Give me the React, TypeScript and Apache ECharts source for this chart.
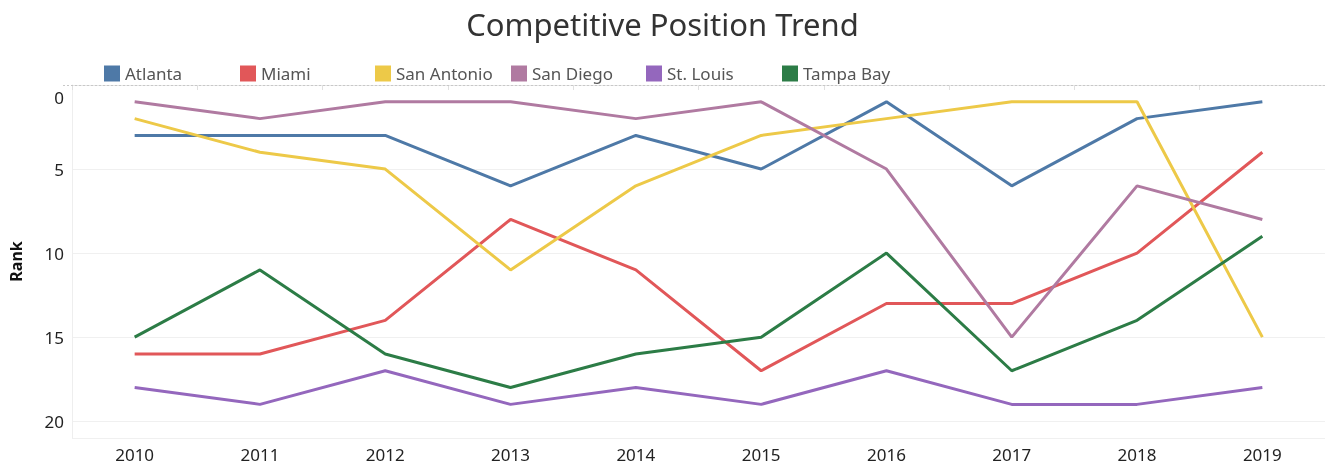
import React, { useEffect, useRef } from "react";
import * as echarts from "echarts";

const years = ["2010", "2011", "2012", "2013", "2014", "2015", "2016", "2017", "2018", "2019"];
const cities = ["Atlanta", "Miami", "San Antonio", "San Diego", "St. Louis", "Tampa Bay"];
const atlanta = [3, 3, 3, 6, 3, 5, 1, 6, 2, 1];
const miami = [16, 16, 14, 8, 11, 17, 13, 13, 10, 4];
const sanAntonio = [2, 4, 5, 11, 6, 3, 2, 1, 1, 15];
const sanDiego = [1, 2, 1, 1, 2, 1, 5, 15, 6, 8];
const stLouis = [18, 19, 17, 19, 18, 19, 17, 19, 19, 18];
const tampaBay = [15, 11, 16, 18, 16, 15, 10, 17, 14, 9];
const seriesValues = [atlanta, miami, sanAntonio, sanDiego, stLouis, tampaBay];
const colors = ["#4e79a7", "#e15759", "#edc948", "#b07aa1", "#9467bd", "#2c7c46"];
const yTicks = [0, 5, 10, 15, 20];
const legendLefts = [104, 240, 375, 511, 646, 782];

const FONT = "'Noto Sans', 'Open Sans', sans-serif";

export default function App() {
  const ref = useRef<HTMLDivElement>(null);
  useEffect(() => {
    const chart = echarts.init(ref.current!, null, { renderer: "svg" });
    chart.setOption({
      animation: false,
      title: {
        text: "Competitive Position Trend",
        left: "center",
        top: 3,
        textStyle: { fontFamily: FONT, fontSize: 31, fontWeight: "normal", color: "#333" },
      },
      legend: cities.map((c, i) => ({
        left: legendLefts[i] - 5,
        top: 60,
        itemWidth: 16,
        itemHeight: 16,
        itemGap: 0,
        icon: "rect",
        data: [c],
        textStyle: { fontFamily: FONT, fontSize: 17, color: "#555" },
      })),
      grid: { left: 68, right: 0, top: 85, bottom: 28, containLabel: false },
      xAxis: {
        type: "category",
        data: years,
        boundaryGap: true,
        axisLine: { lineStyle: { color: "#e6e6e6" } },
        axisTick: { show: true, length: 5, lineStyle: { color: "#e0e0e0" } },
        axisLabel: { fontFamily: FONT, fontSize: 17, color: "#222", margin: 8 },
      },
      yAxis: {
        type: "value",
        inverse: true,
        min: 0,
        max: 21,
        interval: 5,
        name: "Rank",
        nameLocation: "middle",
        nameGap: 48,
        nameTextStyle: { fontFamily: FONT, fontSize: 16, fontWeight: "bold", color: "#111" },
        axisLine: { show: true, lineStyle: { color: "#eeeeee" } },
        axisTick: { show: false },
        splitLine: { lineStyle: { color: "#f0f0f0" } },
        axisLabel: {
          fontFamily: FONT,
          fontSize: 17,
          color: "#222",
          margin: 8,
          showMaxLabel: false,
          formatter: (v: number) => (yTicks.includes(v) ? (v === 0 ? "{top|0}" : String(v)) : ""),
          rich: { top: { fontFamily: FONT, fontSize: 17, color: "#222", padding: [24, 0, 0, 0] } },
        },
      },
      graphic: [
        {
          type: "line",
          shape: { x1: 63, y1: 85.5, x2: 1325, y2: 85.5 },
          style: { stroke: "#c8c8c8", lineWidth: 1, lineDash: [2, 2] },
          z: 10,
        },
      ],
      series: cities.map((c, i) => ({
        name: c,
        type: "line",
        data: seriesValues[i],
        symbol: "none",
        lineStyle: { width: 3, color: colors[i] },
        itemStyle: { color: colors[i] },
      })),
    });
    return () => chart.dispose();
  }, []);
  return <div ref={ref} style={{ position: "fixed", left: 0, top: 0, width: 1325, height: 466 }} />;
}
